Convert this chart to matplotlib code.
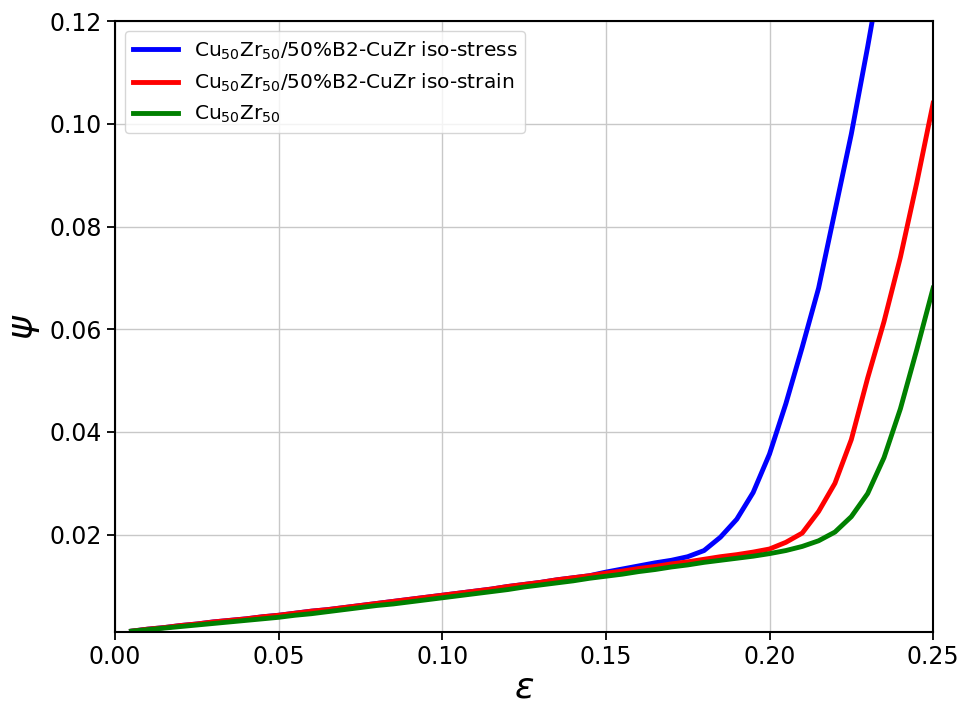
import matplotlib
matplotlib.use('Agg')
import matplotlib.pyplot as plt

# strain values (step 0.005)
eps = [0.005, 0.010, 0.015, 0.020, 0.025, 0.030, 0.035, 0.040, 0.045, 0.050,
       0.055, 0.060, 0.065, 0.070, 0.075, 0.080, 0.085, 0.090, 0.095, 0.100,
       0.105, 0.110, 0.115, 0.120, 0.125, 0.130, 0.135, 0.140, 0.145, 0.150,
       0.155, 0.160, 0.165, 0.170, 0.175, 0.180, 0.185, 0.190, 0.195, 0.200,
       0.205, 0.210, 0.215, 0.220, 0.225, 0.230, 0.235, 0.240, 0.245, 0.250]

psi_iso_stress = [0.0012, 0.0016, 0.0019, 0.0023, 0.0026, 0.0030, 0.0033, 0.0036, 0.0040, 0.0043,
                  0.0047, 0.0051, 0.0054, 0.0058, 0.0062, 0.0066, 0.0070, 0.0074, 0.0078, 0.0082,
                  0.0086, 0.0090, 0.0094, 0.0099, 0.0103, 0.0107, 0.0112, 0.0116, 0.0120, 0.0127,
                  0.0133, 0.0139, 0.0145, 0.0150, 0.0157, 0.0169, 0.0195, 0.0230, 0.0282, 0.0357,
                  0.0455, 0.0565, 0.0680, 0.0830, 0.0980, 0.1150, 0.1330]

psi_iso_strain = [0.0012, 0.0016, 0.0019, 0.0023, 0.0026, 0.0030, 0.0033, 0.0036, 0.0040, 0.0043,
                  0.0047, 0.0051, 0.0054, 0.0058, 0.0062, 0.0066, 0.0070, 0.0074, 0.0078, 0.0082,
                  0.0086, 0.0090, 0.0094, 0.0099, 0.0103, 0.0107, 0.0112, 0.0116, 0.0120, 0.0125,
                  0.0129, 0.0134, 0.0138, 0.0143, 0.0147, 0.0152, 0.0157, 0.0161, 0.0166, 0.0172,
                  0.0185, 0.0203, 0.0245, 0.0300, 0.0385, 0.0505, 0.0615, 0.0740, 0.0885, 0.1040]

psi_glass = [0.0012, 0.0015, 0.0018, 0.0021, 0.0024, 0.0027, 0.0030, 0.0033, 0.0036, 0.0039,
             0.0043, 0.0046, 0.0050, 0.0054, 0.0058, 0.0062, 0.0065, 0.0069, 0.0073, 0.0077,
             0.0081, 0.0085, 0.0089, 0.0093, 0.0098, 0.0102, 0.0106, 0.0110, 0.0115, 0.0119,
             0.0123, 0.0128, 0.0132, 0.0137, 0.0141, 0.0146, 0.0150, 0.0154, 0.0158, 0.0163,
             0.0169, 0.0177, 0.0188, 0.0205, 0.0235, 0.0280, 0.0350, 0.0445, 0.0560, 0.0680]

labels = [r'Cu$_{50}$Zr$_{50}$/50%B2-CuZr iso-stress',
          r'Cu$_{50}$Zr$_{50}$/50%B2-CuZr iso-strain',
          r'Cu$_{50}$Zr$_{50}$']

fig = plt.figure(figsize=(9.59, 7.04), dpi=100)
ax = fig.add_axes([0.120, 0.102, 0.853, 0.868])

ax.plot(eps[:len(psi_iso_stress)], psi_iso_stress, color='blue', lw=3.5, label=labels[0])
ax.plot(eps, psi_iso_strain, color='red', lw=3.5, label=labels[1])
ax.plot(eps, psi_glass, color='green', lw=3.5, label=labels[2])

ax.set_xlim(0, 0.25)
ax.set_ylim(0.001, 0.12)
ax.grid(True, color='#c8c8c8', lw=1)
ax.tick_params(labelsize=17, width=1.3, length=6)
for s in ax.spines.values():
    s.set_linewidth(1.5)

ax.set_xlabel(r'$\varepsilon$', fontsize=26, labelpad=1)
ax.set_ylabel(r'$\psi$', fontsize=26, labelpad=5)
ax.legend(loc='upper left', fontsize=14.5, handlelength=2.2)

fig.savefig('out.png', dpi=100)
